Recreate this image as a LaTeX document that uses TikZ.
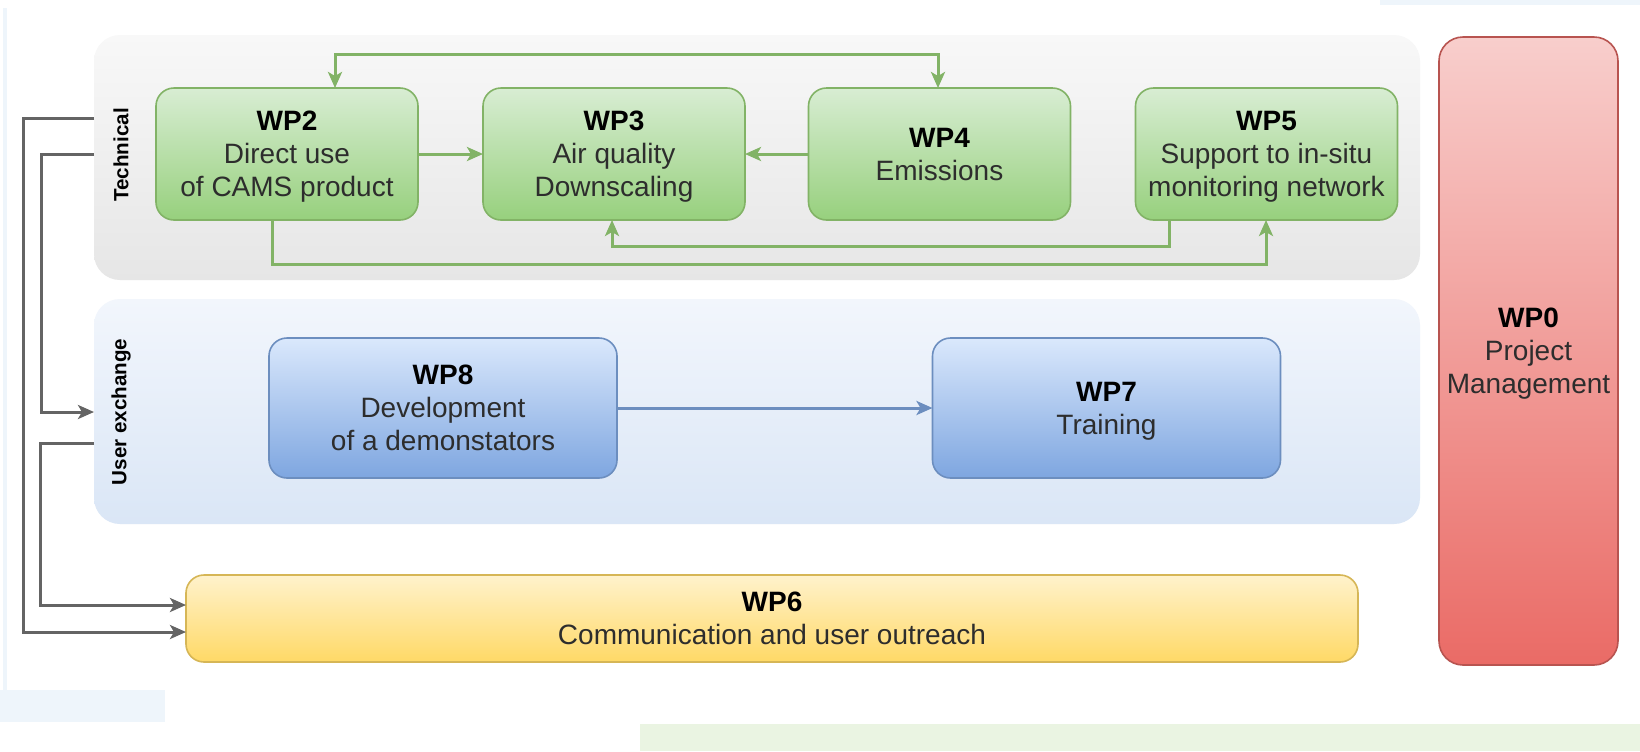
\documentclass[tikz,border=0pt]{standalone}
\usepackage{fontspec}
\setmainfont{Liberation Sans}
\usetikzlibrary{arrows.meta,shadings}
\definecolor{gtop}{RGB}{216,237,211}
\definecolor{gbot}{RGB}{151,208,125}
\definecolor{gdraw}{RGB}{130,179,102}
\definecolor{btop}{RGB}{218,232,252}
\definecolor{bbot}{RGB}{126,166,224}
\definecolor{bdraw}{RGB}{108,142,191}
\definecolor{ytop}{RGB}{255,242,204}
\definecolor{ybot}{RGB}{255,217,102}
\definecolor{ydraw}{RGB}{214,182,86}
\definecolor{rtop}{RGB}{248,206,204}
\definecolor{rbot}{RGB}{234,107,102}
\definecolor{rdraw}{RGB}{184,84,80}
\definecolor{ptop}{RGB}{248,248,248}
\definecolor{pbot}{RGB}{230,230,230}
\definecolor{utop}{RGB}{242,246,252}
\definecolor{ubot}{RGB}{218,230,246}
\definecolor{txt}{RGB}{45,45,45}
\definecolor{gline}{RGB}{130,179,102}
\definecolor{kline}{RGB}{100,100,100}
\definecolor{bandg}{RGB}{234,244,226}
\definecolor{bandb}{RGB}{238,245,251}
\begin{document}
\begin{tikzpicture}[x=0.5pt,y=-0.5pt,
  wpbox/.style={rounded corners=9pt, line width=0.8pt, inner sep=0pt, outer sep=0pt,
    align=center, text=txt, text depth=0pt, font=\fontsize{14}{16.5}\selectfont},
  gbox/.style={wpbox, draw=gdraw, top color=gtop, bottom color=gbot,
    minimum width=131pt, minimum height=66pt},
  bbox/.style={wpbox, draw=bdraw, top color=btop, bottom color=bbot,
    minimum width=174pt, minimum height=70pt},
  panel/.style={rounded corners=13pt, draw=none, inner sep=0pt, outer sep=0pt,
    minimum width=663pt},
  plabel/.style={rotate=90, font=\bfseries\fontsize{10.3}{12}\selectfont, text=black},
  garrow/.style={draw=gline, line width=1.5pt, -{Stealth[length=8pt,width=7pt,inset=2pt]}},
  karrow/.style={draw=kline, line width=1.5pt, -{Stealth[length=8pt,width=7pt,inset=2pt]}},
]
\useasboundingbox (0,0) rectangle (1640,751);
\fill[white] (0,0) rectangle (1640,751);
% screenshot background remnants
\fill[bandg] (640,724) rectangle (1640,751);
\fill[bandb] (0,690) rectangle (165,722);
\fill[bandb] (1380,0) rectangle (1640,5);
\fill[bandb] (3,8) rectangle (7,690);

% panels
\node[panel, minimum height=122.5pt, top color=ptop, bottom color=pbot] (tech) at (757,157.5) {};
\node[panel, minimum height=112.5pt, top color=utop, bottom color=ubot] (user) at (757,411.5) {};
\node[plabel] (techlab) at (121,155) {Technical};
\node[plabel] (userlab) at (121,412) {User exchange};

% green boxes
\node[gbox] (wp2) at (287,154) {\textbf{\color{black}WP2}\\Direct use\\of CAMS product};
\node[gbox] (wp3) at (614,154) {\textbf{\color{black}WP3}\\Air quality\\Downscaling};
\node[gbox] (wp4) at (939.5,154) {\textbf{\color{black}WP4}\\Emissions};
\node[gbox] (wp5) at (1266.5,154) {\textbf{\color{black}WP5}\\Support to in-situ\\monitoring network};

% blue boxes
\node[bbox] (wp8) at (443,408) {\textbf{\color{black}WP8}\\Development\\of a demonstators};
\node[bbox] (wp7) at (1106.5,408) {\textbf{\color{black}WP7}\\Training};

% WP6
\node[wpbox, draw=ydraw, top color=ytop, bottom color=ybot, minimum width=586pt, minimum height=43.5pt]
  (wp6) at (772,618.5) {\textbf{\color{black}WP6}\\Communication and user outreach};

% WP0
\node[wpbox, draw=rdraw, top color=rtop, bottom color=rbot, minimum width=89.5pt, minimum height=314pt, rounded corners=12pt]
  (wp0) at (1528.5,351) {\textbf{\color{black}WP0}\\Project\\Management};

% green connectors
\coordinate (t1) at (335,54);
\coordinate (t2) at (938,54);
\draw[draw=gline, line width=1.5pt, {Stealth[length=8pt,width=7pt,inset=2pt]}-{Stealth[length=8pt,width=7pt,inset=2pt]}]
  (wp2.north -| t1) -- (t1) -- (t2) -- (wp4.north -| t2);
\draw[garrow] (wp2.east) -- (wp3.west);
\draw[garrow] (wp4.west) -- (wp3.east);
\coordinate (b1) at (1169,246);
\coordinate (b2) at (612,246);
\draw[garrow] (wp5.south -| b1) -- (b1) -- (b2) -- (wp3.south -| b2);
\coordinate (c1) at (272,264);
\coordinate (c2) at (1266,264);
\draw[garrow] (wp2.south -| c1) -- (c1) -- (c2) -- (wp5.south -| c2);

% blue connector
\draw[draw=bdraw, line width=1.5pt, -{Stealth[length=8pt,width=7pt,inset=2pt]}] (wp8.east) -- (wp7.west);

% gray connectors
\coordinate (a0) at (94,118);
\coordinate (a1) at (23,118);
\coordinate (a2) at (23,632);
\draw[karrow] (tech.west |- a0) -- (a1) -- (a2) -- (wp6.west |- a2);
\coordinate (e0) at (94,154);
\coordinate (e1) at (41,154);
\coordinate (e2) at (41,412);
\draw[karrow] (tech.west |- e0) -- (e1) -- (e2) -- (user.west |- e2);
\coordinate (f0) at (94,443);
\coordinate (f1) at (40,443);
\coordinate (f2) at (40,605);
\draw[karrow] (user.west |- f0) -- (f1) -- (f2) -- (wp6.west |- f2);
\end{tikzpicture}
\end{document}
